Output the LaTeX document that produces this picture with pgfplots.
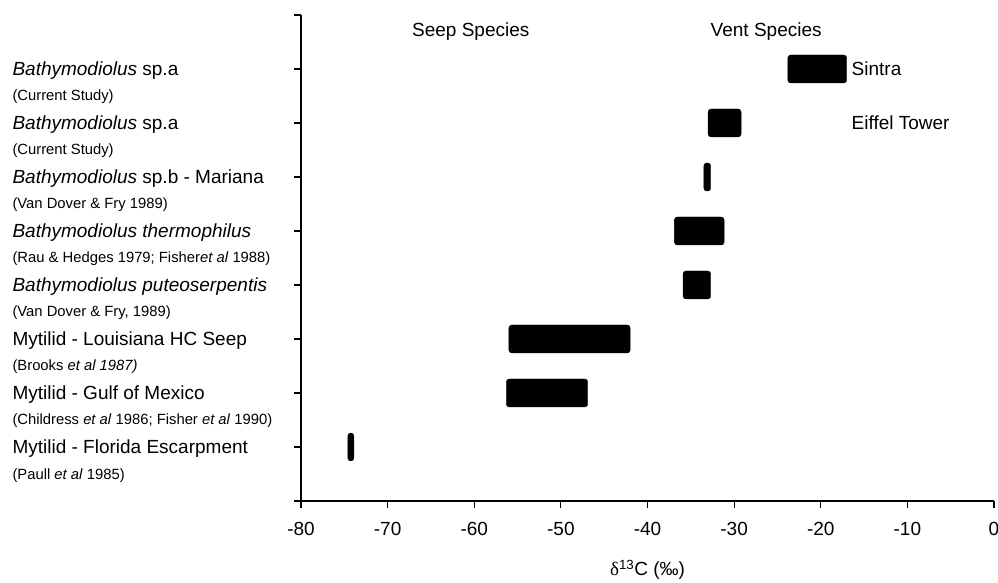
\documentclass[border=0pt]{standalone}
\usepackage{pgfplots}
\pgfplotsset{compat=1.18}
\usepackage{fontspec}
\setmainfont{Liberation Sans}
\newfontfamily\serifgr{Liberation Serif}
\newcommand{\fm}{\fontsize{19}{22}\selectfont}
\newcommand{\fr}{\fontsize{14.8}{17}\selectfont}
\newcommand{\lab}[2]{\vtop{\baselineskip=25pt\lineskiplimit=-20pt\hbox{\fm #1}\hbox{\fr #2}}}
\pgfplotstableread{
y right len
1 -73.9 -0.7
2 -46.9 -9.4
3 -42.0 -14.0
4 -32.7 -3.2
5 -31.15 -5.75
6 -32.7 -0.8
7 -29.2 -3.8
8 -17.0 -6.8
}\bars
\begin{document}
\begin{tikzpicture}
\path[use as bounding box] (-301pt,-82pt) rectangle (697pt,501pt);
\begin{axis}[
  at={(0pt,0pt)}, anchor=south west,
  width=693pt, height=486pt, scale only axis,
  xmin=-80, xmax=0, ymin=0, ymax=9,
  axis x line*=bottom, axis y line*=left,
  axis line style={line width=1.2pt},
  tick align=outside, major tick length=7pt,
  tick style={line width=1.1pt, black},
  xtick={-80,-70,-60,-50,-40,-30,-20,-10,0},
  xticklabels={-80,-70,-60,-50,-40,-30,-20,-10,0},
  xticklabel style={font=\fm, yshift=-11pt},
  ytick={0,1,2,3,4,5,6,7,8,9},
  yticklabels={{},
    {\lab{Mytilid - Florida Escarpment}{(Paull \textit{et al} 1985)}},
    {\lab{Mytilid - Gulf of Mexico}{(Childress \textit{et al} 1986; Fisher \textit{et al} 1990)}},
    {\lab{Mytilid - Louisiana HC Seep}{(Brooks \textit{et al 1987)}}},
    {\lab{\textit{Bathymodiolus puteoserpentis}}{(Van Dover \& Fry, 1989)}},
    {\lab{\textit{Bathymodiolus thermophilus}}{(Rau \& Hedges 1979; Fisher\textit{et al} 1988)}},
    {\lab{\textit{Bathymodiolus} sp.b - Mariana}{(Van Dover \& Fry 1989)}},
    {\lab{\textit{Bathymodiolus} sp.a}{(Current Study)}},
    {\lab{\textit{Bathymodiolus} sp.a}{(Current Study)}},
    {}},
  yticklabel style={anchor=base west, xshift=-285pt, yshift=-7pt},
  xbar stacked, bar width=28pt,
  xlabel={{\serifgr δ}\textsuperscript{13}C (‰)},
  xlabel style={font=\fm, yshift=-17pt},
  clip=false,
]
\addplot[draw=none, fill=none] table[x=right, y=y] {\bars};
\addplot[fill=black, draw=black, rounded corners=3pt] table[x=len, y=y] {\bars};
\node[font=\fm] at (axis cs:-60.4,8.69) {Seep Species};
\node[font=\fm] at (axis cs:-26.3,8.69) {Vent Species};
\node[font=\fm, anchor=west, inner sep=0pt] at (axis cs:-16.45,8) {Sintra};
\node[font=\fm, anchor=west, inner sep=0pt] at (axis cs:-16.45,7) {Eiffel Tower};
\end{axis}
\end{tikzpicture}
\end{document}
